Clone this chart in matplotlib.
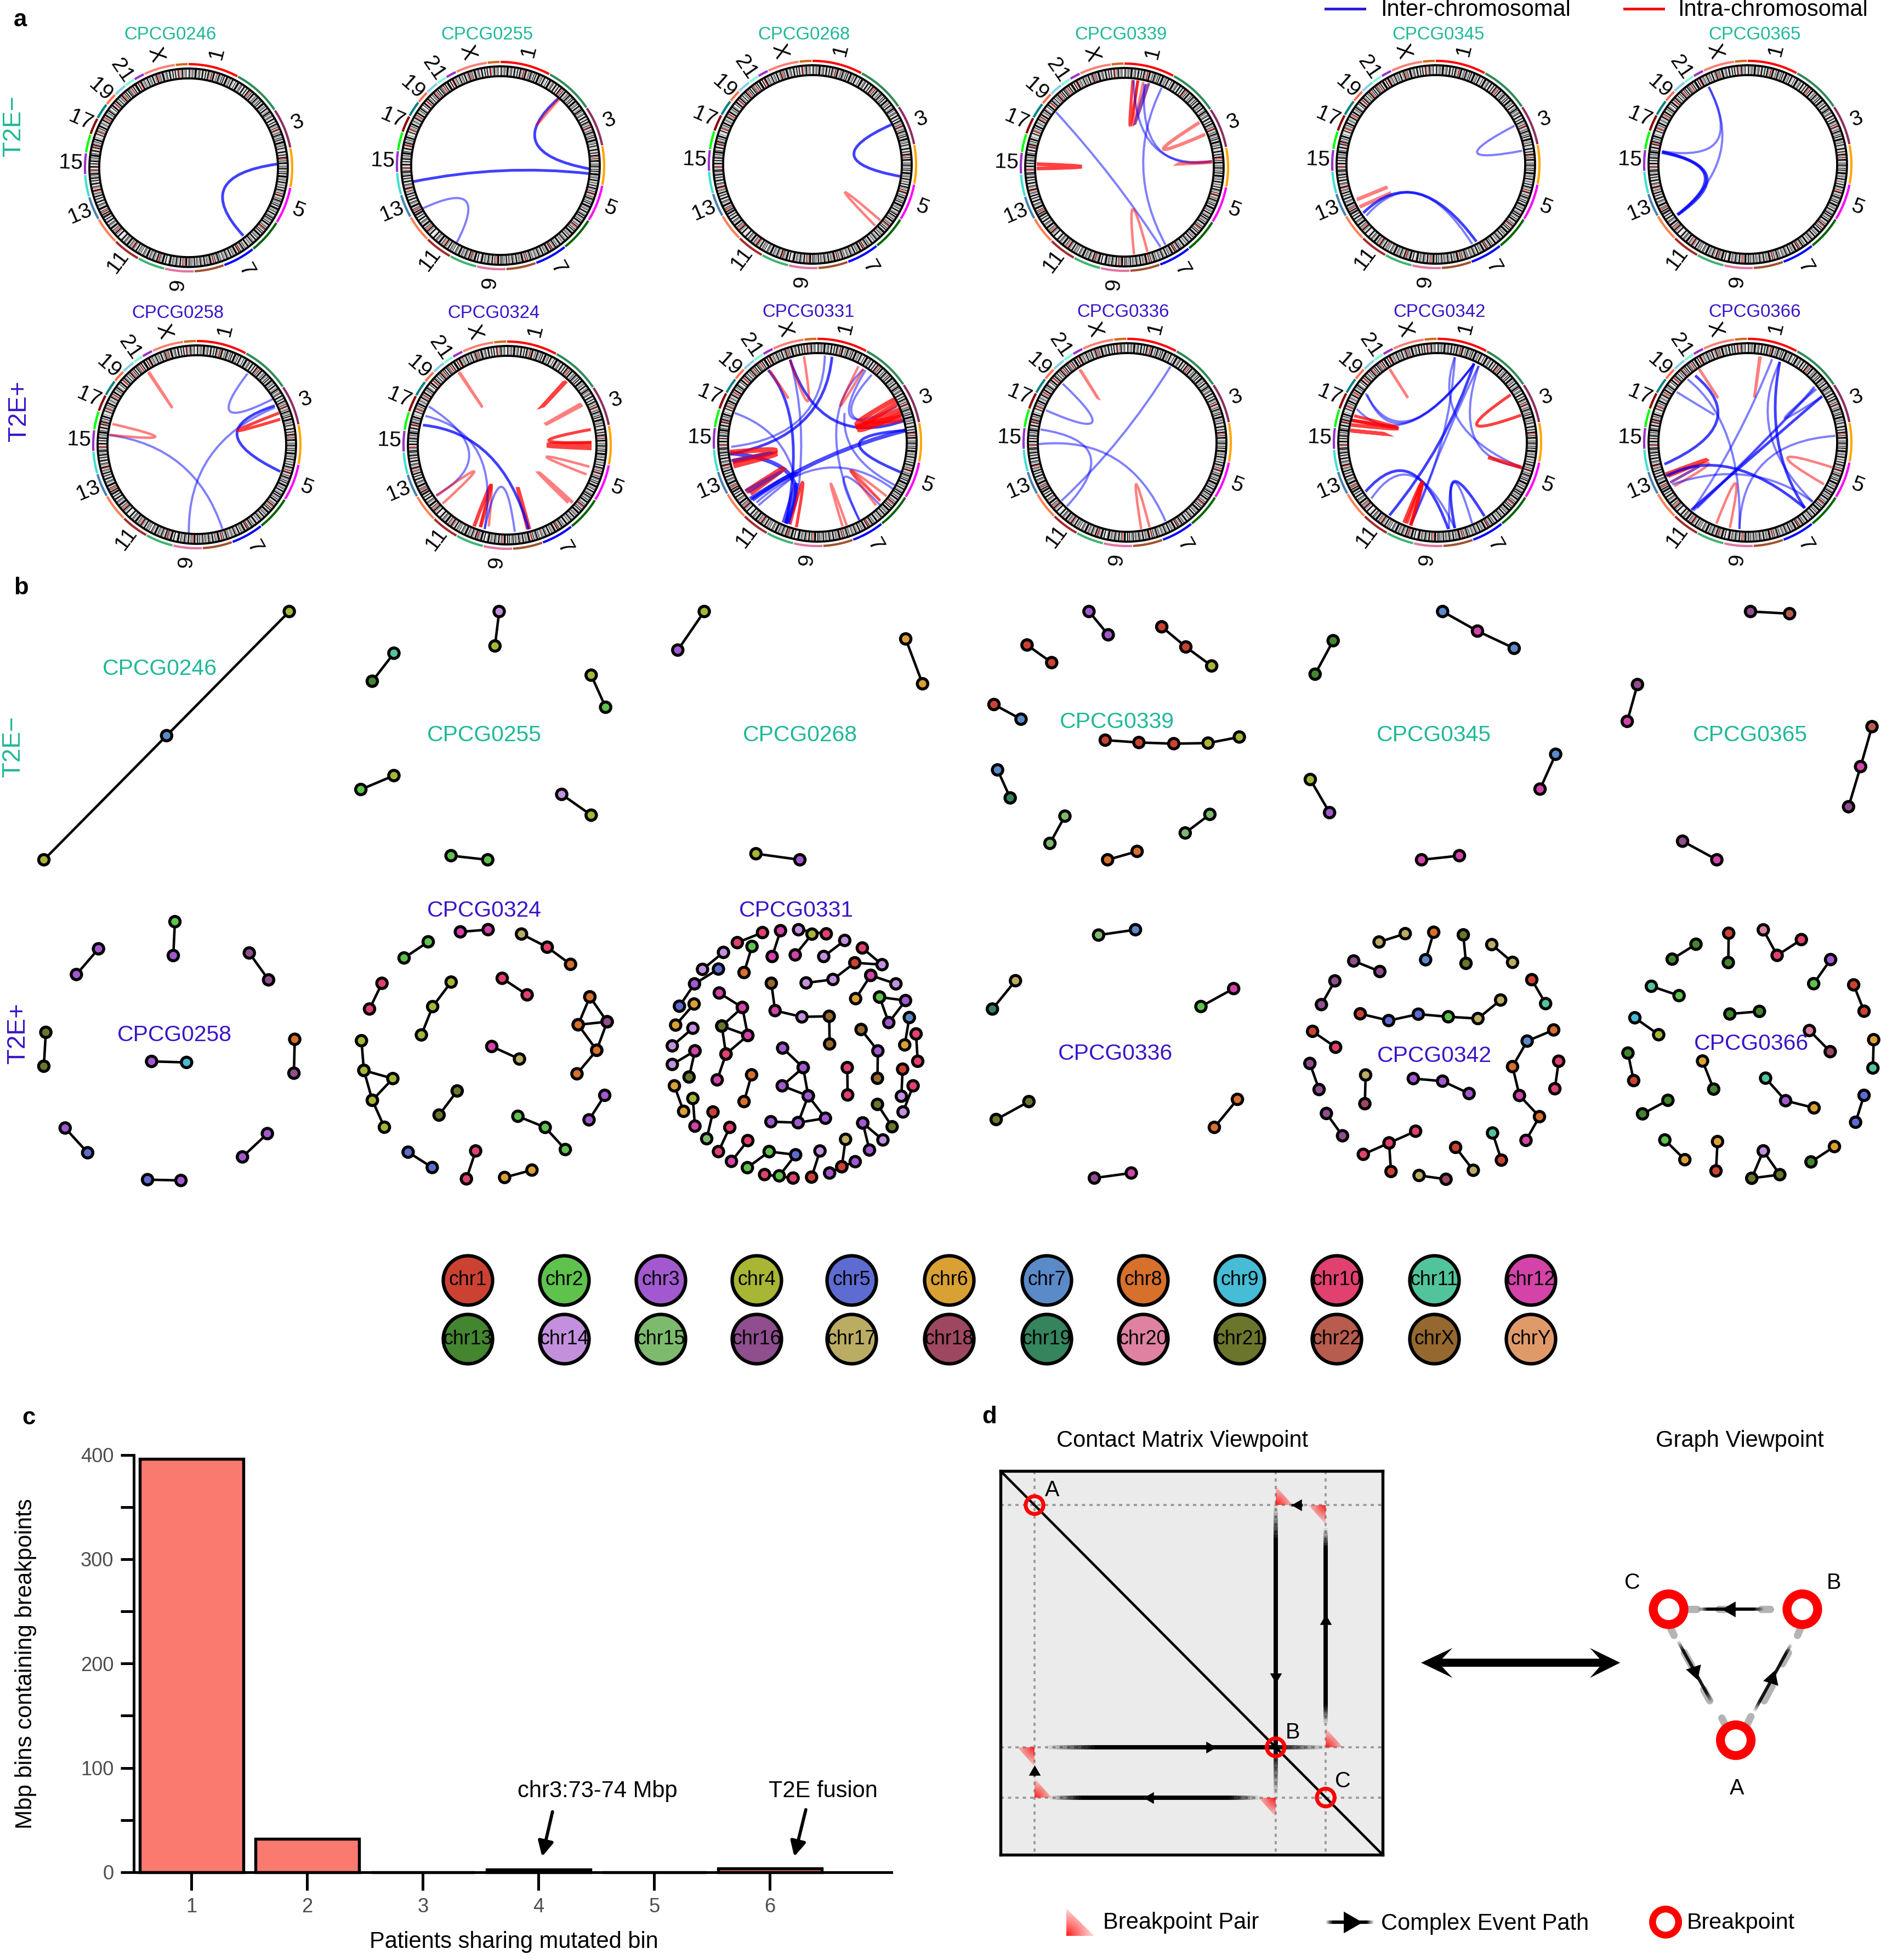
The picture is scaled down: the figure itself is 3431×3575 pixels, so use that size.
import numpy as np
import matplotlib
matplotlib.use('Agg')
import matplotlib.pyplot as plt
from matplotlib.path import Path
from matplotlib.patches import PathPatch, Polygon
from matplotlib.collections import LineCollection

plt.rcParams['font.family'] = ['Liberation Sans', 'DejaVu Sans']
W, H, DPI = 3431, 3575, 300
TEAL, INDIGO = '#1FB899', '#3A14C8'

# ---------- chromosomes ----------
CHR_NAMES = [str(i) for i in range(1, 23)] + ['X', 'Y']
CHR_MB = [249, 243, 198, 191, 181, 171, 159, 146, 141, 135, 135, 133, 115, 107, 102, 90, 81, 78, 59, 63, 48, 51, 155, 59]
CENTRO_MB = [125, 93, 91, 50, 48, 60, 60, 45, 49, 40, 53, 35, 17, 17, 19, 36, 24, 18, 26, 27, 13, 15, 60, 12]
RING_COLORS = ['#FF0000', '#2E8B57', '#8B2F62', '#FFA500', '#FF00FF', '#006400', '#0000FF', '#A0522D',
               '#E075A0', '#3CB371', '#A52A2A', '#FF7F50', '#4682B4', '#40E0D0', '#9932CC', '#00FF00',
               '#8B0000', '#008080', '#FF6F50', '#87CEEB', '#7FFFD4', '#9932CC', '#FA8072', '#D2691E']
NODE_COLORS = ['#CC4232', '#5EC24C', '#A259CF', '#A8B535', '#5E6BD0', '#D9A033', '#5B8AC9', '#D6702B',
               '#46BCD6', '#E0416E', '#52C49B', '#D343A8', '#448530', '#C290DD', '#7DBA6E', '#8F4E8E',
               '#BAAC62', '#9E4760', '#35845E', '#DF82A2', '#6B752C', '#B85C4E', '#94682E', '#E09A6A']
RING_LABELS = ['1', '3', '5', '7', '9', '11', '13', '15', '17', '19', '21', 'X']
CYTO_SHADE = [10, 100, 100, 15, 40, 5, 70, 10, 100, 20, 5, 55, 100, 100, 100, 10, 30, 5, 85, 15, 100, 35, 5, 10, 60,
              100, 100, 5, 25, 5, 75, 100, 15, 5, 45, 100, 100, 10, 65, 5, 20, 100, 30, 5, 90, 100, 100, 15, 5, 50,
              10, 100, 5, 35, 100, 100, 20, 70, 5, 10, 100, 40, 5, 80, 100, 15, 5, 55, 100, 100, 100, 10, 25, 60, 5,
              100, 20, 5, 45, 100, 100, 10, 30, 5, 75]

# ---------- crops in which positions were read ----------
CROPS = {'z1': (0, 0, 1.3067, 1.5), 'z2': (1200, 520, 1.3067, 3.0), 'z5': (1200, 20, 1.4255, 3.0),
         'z6': (2331, 20, 1.4255, 3.0), 'z7': (2331, 540, 1.4255, 3.0), 'z8': (0, 1060, 0.9116, 2.8),
         'z9': (1711, 1060, 0.9116, 2.8), 'z10': (0, 1620, 1.3635, 2.75), 'z4': (1100, 1620, 1.3067, 1.742),
         'z11': (2331, 1620, 1.4255, 2.75), 'z3': (1700, 2520, 0.9058, 1.486)}


def cv(crop, x, y):
    x0, y0, sx, sy = CROPS[crop]
    return x0 + x / sx, y0 + y / sy


# ---------- panel a ----------
CIRCOS_NAMES = ['CPCG0246', 'CPCG0255', 'CPCG0268', 'CPCG0339', 'CPCG0345', 'CPCG0365',
                'CPCG0258', 'CPCG0324', 'CPCG0331', 'CPCG0336', 'CPCG0342', 'CPCG0366']
CIRCOS_CENTERS = [(344, 306), (913, 302), (1482, 300), (2051, 305), (2619, 300), (3188, 300),
                  (359, 811), (925, 812), (1491, 807), (2056, 807), (2622, 807), (3188, 807)]
CIRCOS_TITLES = [(311, 64), (888, 64), (1467, 64), (2045, 64), (2624, 64), (3201, 64),
                 (324, 572), (901, 572), (1475, 569), (2049, 569), (2626, 569), (3201, 569)]

LINKS = {
    'CPCG0246': ('z1', [(660, 449, 580, 645, 535, 515, 'B')]),
    'CPCG0255': ('z1', [(1405, 462, 1332, 268, 1278, 390, 'B'), (1335, 268, 1330, 272, 1262, 365, 'r'),
                        (1405, 475, 985, 497, 1195, 467, 'B'), (1008, 570, 1088, 665, 1110, 550, 'b')]),
    'CPCG0268': ('z5', [(607, 622, 630, 905, 510, 790, 'B'), (578, 1145, 565, 1175, 487, 993, 'r')]),
    'CPCG0339': ('z5', [(1235, 378, 1248, 380, 1228, 625, 'R'), (1262, 388, 1248, 380, 1235, 625, 'r'),
                        (1277, 395, 1270, 400, 1240, 620, 'p'), (1265, 400, 1440, 825, 1300, 750, 'b'),
                        (1310, 420, 1320, 1280, 1262, 850, 'b'), (1035, 553, 1307, 1292, 1180, 915, 'b'),
                        (1237, 378, 1440, 822, 1290, 740, 'b'), (1408, 610, 1423, 675, 1315, 755, 's'),
                        (1442, 825, 1440, 828, 1325, 840, 's'), (985, 838, 985, 862, 1100, 852, 'M'),
                        (1238, 1332, 1273, 1318, 1235, 1085, 'r')]),
    'CPCG0345': ('z6', [(615, 628, 635, 765, 518, 775, 'b'), (205, 1033, 207, 1030, 310, 942, 's'),
                        (215, 1070, 212, 1072, 320, 972, 's'), (222, 1105, 516, 1262, 365, 1000, 'B'),
                        (230, 1120, 505, 1275, 365, 1000, 'b')]),
    'CPCG0365': ('z6', [(1120, 415, 1040, 1115, 1150, 780, 'b'), (998, 768, 1120, 415, 1140, 715, 'b'),
                        (998, 775, 1038, 1115, 1110, 900, 'B'), (1000, 770, 1040, 1115, 1115, 905, 'B')]),
    'CPCG0258': ('z1', [(260, 1190, 530, 1447, 430, 1270, 'b'), (268, 1160, 262, 1190, 370, 1195, 'r'),
                        (355, 1017, 353, 1019, 413, 1120, 'r'), (590, 1022, 650, 1092, 548, 1125, 'b'),
                        (655, 1110, 668, 1290, 565, 1190, 'B'), (450, 1458, 655, 1115, 500, 1250, 'b'),
                        (665, 1130, 668, 1147, 567, 1178, 'R')]),
    'CPCG0324': ('z1', [(1095, 1017, 1093, 1019, 1152, 1118, 'r'), (1345, 1045, 1350, 1043, 1277, 1132, 'M'),
                        (1388, 1108, 1385, 1105, 1297, 1163, 's'), (1408, 1175, 1410, 1210, 1308, 1205, 'R'),
                        (1410, 1215, 1410, 1225, 1307, 1218, 'T'), (1405, 1277, 1398, 1298, 1303, 1250, 'r'),
                        (1365, 1375, 1355, 1375, 1284, 1293, 's'), (1262, 1448, 1258, 1448, 1233, 1330, 'M'),
                        (1130, 1440, 1145, 1442, 1170, 1328, 'M'), (1165, 1440, 1145, 1442, 1170, 1328, 'r'),
                        (1155, 1448, 1227, 1455, 1195, 1332, 'b'), (1040, 1355, 1022, 1112, 1118, 1240, 'b'),
                        (1014, 1138, 1155, 1447, 1140, 1240, 'b'), (1008, 1163, 1260, 1448, 1165, 1245, 'B'),
                        (1055, 1378, 1040, 1357, 1130, 1290, 'r')]),
    'CPCG0331': ('z2', [(398, 385, 175, 885, 340, 730, 'b'), (415, 392, 172, 925, 345, 745, 'B'),
                        (263, 465, 305, 1305, 320, 800, 'B'), (172, 920, 305, 1305, 315, 1040, 'U'),
                        (315, 408, 590, 740, 420, 740, 'B'), (315, 408, 335, 1120, 340, 750, 'b'),
                        (510, 490, 585, 738, 465, 715, 'b'), (495, 465, 570, 665, 460, 720, 'b'),
                        (490, 460, 480, 1285, 425, 800, 'b'), (590, 795, 220, 1170, 400, 945, 'U'),
                        (580, 1025, 590, 795, 480, 870, 'B'), (565, 1095, 445, 700, 470, 920, 'b'),
                        (183, 700, 325, 1040, 275, 830, 'b'), (235, 1190, 560, 1115, 400, 1000, 'b'),
                        (225, 1175, 335, 1035, 300, 1060, 'U'), (240, 1205, 330, 1040, 300, 1090, 'b'),
                        (480, 1285, 530, 1205, 445, 1050, 'b'), (530, 1180, 545, 1155, 460, 1015, 'r'),
                        (520, 1205, 530, 1180, 460, 1015, 'r'), (440, 1320, 450, 1315, 412, 1085, 'r'),
                        (315, 1310, 330, 1325, 345, 1080, 'R'), (310, 1305, 300, 1300, 330, 1090, 'U'),
                        (565, 625, 580, 680, 475, 760, 'T'), (580, 720, 582, 735, 475, 775, 'T'),
                        (570, 650, 580, 705, 480, 790, 'T'), (172, 915, 178, 965, 280, 905, 'T'),
                        (180, 990, 178, 965, 280, 925, 'T'), (210, 1130, 220, 1140, 298, 1005, 'T'),
                        (215, 1135, 208, 1125, 295, 1020, 'p'), (478, 445, 490, 460, 435, 660, 'r'),
                        (265, 465, 268, 470, 325, 668, 'r'), (348, 390, 315, 410, 357, 635, 'r'),
                        (178, 965, 175, 960, 275, 915, 'p')]),
    'CPCG0336': ('z2', [(1222, 445, 962, 1180, 1100, 840, 'b'), (965, 540, 925, 685, 1035, 750, 'b'),
                        (1005, 462, 1008, 465, 1062, 668, 'r'), (912, 790, 975, 1210, 1030, 930, 'b'),
                        (908, 870, 1210, 1292, 1090, 950, 'b'), (1152, 1335, 1172, 1325, 1140, 1090, 'r')]),
    'CPCG0342': ('z7', [(510, 368, 290, 1200, 420, 800, 'B'), (522, 382, 350, 1235, 440, 760, 'b'),
                        (460, 335, 635, 940, 470, 680, 'b'), (522, 382, 630, 935, 510, 770, 'b'),
                        (228, 532, 510, 370, 345, 680, 'b'), (232, 540, 510, 372, 340, 690, 'b'),
                        (205, 618, 510, 372, 340, 690, 'b'), (460, 335, 345, 1250, 425, 800, 'b'),
                        (228, 1070, 443, 1275, 345, 968, 'B'), (243, 1108, 460, 1270, 350, 985, 'b'),
                        (460, 1270, 537, 1205, 458, 1015, 'B'), (505, 1245, 445, 1275, 458, 1020, 'b'),
                        (198, 655, 192, 680, 310, 720, 'R'), (190, 705, 192, 680, 310, 725, 'M'),
                        (190, 737, 188, 735, 305, 760, 'M'), (328, 1240, 345, 1255, 375, 1020, 'M'),
                        (335, 1245, 345, 1255, 375, 1020, 'R'), (290, 400, 292, 403, 353, 607, 'r'),
                        (605, 540, 632, 652, 517, 705, 'R'), (635, 940, 630, 935, 520, 865, 'M')]),
    'CPCG0366': ('z7', [(1255, 330, 1252, 332, 1238, 570, 'r'), (1095, 400, 1097, 403, 1160, 608, 'r'),
                        (1285, 345, 1080, 1165, 1190, 780, 'b'), (1305, 360, 1390, 1125, 1280, 750, 'b'),
                        (1395, 495, 1080, 1175, 1270, 780, 'b'), (1395, 505, 1090, 1160, 1270, 785, 'b'),
                        (1415, 548, 1075, 1170, 1260, 830, 'B'), (1400, 510, 1415, 550, 1318, 668, 'b'),
                        (1305, 360, 1370, 1160, 1300, 790, 'B'), (1085, 435, 1005, 920, 1140, 690, 'B'),
                        (1065, 455, 1200, 1275, 1170, 780, 'b'), (1037, 525, 1135, 650, 1095, 600, 'b'),
                        (1449, 765, 1200, 1275, 1265, 910, 'b'), (1442, 938, 1420, 1030, 1325, 885, 'r'),
                        (1175, 1268, 1140, 1245, 1190, 1025, 'r'), (1008, 975, 1015, 985, 1115, 895, 'M'),
                        (1012, 980, 1030, 1040, 1120, 915, 'r'), (1025, 1015, 1020, 1020, 1118, 905, 'p'),
                        (1010, 985, 1370, 1160, 1180, 940, 'B'), (1025, 1030, 1390, 1125, 1220, 980, 'b')]),
}
LINK_STYLE = {'b': ('#0000FF', 0.5, 0.95), 'B': ('#0000FF', 0.75, 1.2), 'U': ('#0000FF', 0.7, 1.8),
              'r': ('#FF0000', 0.5, 1.1), 's': ('#FF0000', 0.5, 1.5), 'R': ('#FF0000', 0.75, 1.3),
              'M': ('#FF0000', 0.75, 1.6), 'T': ('#FF0000', 0.75, 2.2), 'p': ('#7A1A9A', 0.8, 1.1)}

# ---------- panel b ----------
GRAPHS = {
    'z8': [[(481, 155, 4), (277, 789, 7), (73, 1423, 4)],
           [(830, 155, 14), (823, 331, 4)], [(655, 368, 11), (619, 511, 13)], [(983, 480, 4), (1007, 644, 2)],
           [(655, 993, 4), (600, 1064, 2)], [(934, 1089, 14), (983, 1195, 4)], [(750, 1402, 2), (811, 1423, 2)],
           [(1171, 155, 4), (1127, 352, 3)], [(1506, 295, 6), (1534, 524, 6)], [(1257, 1392, 4), (1330, 1423, 3)]],
    'z9': [[(251, 155, 3), (283, 274, 3)], [(148, 326, 1), (189, 416, 1)], [(372, 233, 1), (412, 336, 1), (455, 433, 4)],
           [(93, 630, 1), (138, 705, 7)], [(278, 812, 1), (334, 824, 1), (392, 830, 1), (449, 827, 4), (501, 796, 4)],
           [(99, 964, 7), (120, 1107, 19)], [(211, 1200, 15), (186, 1339, 15)], [(452, 1191, 15), (411, 1286, 15)],
           [(282, 1423, 8), (331, 1380, 8)],
           [(657, 304, 13), (627, 475, 13)], [(839, 155, 7), (897, 255, 12), (958, 343, 7)], [(619, 1013, 4), (651, 1182, 3)],
           [(1027, 884, 7), (1001, 1062, 12)], [(804, 1423, 12), (867, 1402, 12)],
           [(1351, 155, 16), (1416, 166, 22)], [(1163, 528, 16), (1146, 716, 12)],
           [(1553, 743, 22), (1534, 947, 12), (1514, 1152, 16)], [(1238, 1328, 16), (1295, 1423, 12)]],
    'z10': [[(435, 168, 2), (431, 338, 3)], [(245, 304, 3), (190, 433, 3)], [(620, 325, 16), (668, 460, 16)],
            [(114, 723, 21), (109, 893, 21)], [(377, 869, 3), (464, 874, 9)], [(733, 758, 8), (731, 928, 16)],
            [(162, 1203, 3), (218, 1327, 5)], [(665, 1231, 3), (603, 1348, 3)], [(367, 1462, 5), (450, 1466, 3)],
            [(1145, 219, 12), (1214, 208, 12)], [(1065, 269, 2), (1005, 350, 2)],
            [(1297, 230, 17), (1361, 296, 10), (1419, 382, 8)], [(950, 477, 10), (919, 606, 10)],
            [(1122, 471, 4), (1076, 594, 4), (1048, 736, 4)], [(1249, 452, 10), (1311, 535, 10)],
            [(1467, 545, 8), (1510, 670, 16), (1484, 813, 8), (1438, 685, 8), (1467, 545, 8)],
            [(1438, 685, 8), (1510, 670, 16)], [(1484, 813, 8), (1435, 931, 8)], [(1223, 794, 12), (1292, 857, 17)],
            [(899, 765, 4), (905, 914, 4), (977, 955, 4), (926, 1064, 4), (905, 914, 4)], [(926, 1064, 4), (956, 1199, 4)],
            [(1137, 1017, 21), (1092, 1138, 21)], [(1504, 1039, 3), (1465, 1162, 3)],
            [(1288, 1144, 2), (1356, 1200, 2), (1406, 1311, 2)], [(1015, 1324, 5), (1075, 1401, 5)],
            [(1183, 1318, 10), (1160, 1458, 10)], [(1255, 1451, 6), (1323, 1414, 6)]],
    'z4': [[(380, 141, 10), (320, 173, 10)], [(423, 135, 12), (403, 217, 12)], [(466, 132, 14), (532, 145, 10)],
           [(498, 146, 4), (458, 212, 12)], [(576, 166, 14), (526, 217, 14)], [(355, 185, 2), (336, 268, 8)],
           [(287, 204, 14), (237, 258, 14)], [(275, 257, 5), (218, 304, 3), (182, 375, 5)],
           [(618, 190, 10), (665, 243, 14), (600, 237, 1), (548, 290, 14), (484, 301, 14)],
           [(638, 277, 12), (698, 304, 14)], [(638, 277, 12), (602, 351, 6)],
           [(401, 302, 23), (410, 389, 12), (474, 409, 14), (539, 407, 23), (540, 495, 23)],
           [(277, 333, 12), (332, 379, 12), (345, 468, 12), (283, 438, 21), (332, 379, 12)],
           [(283, 438, 21), (293, 527, 10), (345, 468, 12)], [(293, 527, 10), (272, 609, 12)],
           [(217, 368, 6), (173, 435, 6)], [(214, 445, 14), (165, 501, 14)],
           [(659, 346, 2), (721, 357, 3), (681, 427, 3), (659, 346, 2)], [(730, 411, 7), (719, 498, 6)],
           [(746, 463, 10), (750, 550, 10)], [(615, 449, 23), (655, 517, 3), (654, 604, 23)],
           [(219, 517, 12), (165, 560, 14)], [(219, 517, 12), (205, 600, 21)],
           [(428, 508, 3), (477, 570, 3), (489, 660, 3), (427, 628, 3), (477, 570, 3)],
           [(489, 660, 3), (530, 731, 3), (465, 745, 3), (489, 660, 3)], [(465, 745, 3), (400, 742, 3)],
           [(354, 593, 8), (336, 678, 8)], [(582, 570, 10), (583, 657, 10)], [(714, 575, 1), (711, 661, 14)],
           [(739, 628, 10), (715, 711, 14)], [(170, 628, 6), (192, 709, 6)], [(214, 668, 4), (219, 756, 12)],
           [(262, 711, 1), (247, 796, 15)], [(302, 760, 10), (275, 837, 10)], [(654, 687, 21), (689, 758, 21)],
           [(619, 746, 3), (667, 800, 14)], [(619, 746, 3), (635, 832, 3)], [(345, 802, 10), (306, 868, 12)],
           [(396, 837, 2), (459, 847, 5), (420, 914, 2)], [(396, 837, 2), (344, 888, 2)],
           [(385, 910, 10), (453, 921, 10)], [(517, 835, 14), (497, 918, 1)],
           [(578, 798, 17), (569, 885, 1), (540, 905, 3)], [(569, 885, 1), (601, 869, 3)],
           [(1181, 149, 15), (1269, 132, 7)], [(983, 294, 17), (928, 384, 19)], [(1425, 376, 2), (1503, 319, 12)],
           [(1015, 678, 21), (937, 735, 21)], [(1512, 671, 8), (1457, 760, 8)], [(1171, 921, 16), (1259, 905, 12)]],
    'z11': [[(331, 228, 17), (263, 270, 17)], [(405, 221, 8), (384, 359, 7)], [(482, 234, 21), (489, 377, 21)],
            [(556, 283, 17), (610, 372, 17)], [(197, 365, 16), (265, 418, 16)], [(660, 459, 1), (696, 579, 11)],
            [(148, 465, 16), (113, 584, 16)],
            [(214, 630, 1), (288, 664, 5), (365, 632, 5), (443, 645, 2), (520, 654, 17), (579, 561, 17)],
            [(90, 718, 1), (150, 798, 10)],
            [(717, 711, 8), (648, 767, 7), (610, 895, 8), (628, 1040, 12), (680, 1146, 8), (645, 1265, 12)],
            [(83, 879, 16), (107, 1010, 16)], [(730, 868, 10), (720, 1006, 10)], [(228, 937, 17), (226, 1081, 18)],
            [(352, 955, 3), (428, 968, 3), (497, 1030, 3)], [(126, 1130, 16), (168, 1242, 16)],
            [(358, 1219, 10), (289, 1278, 10), (222, 1335, 10)], [(289, 1278, 10), (294, 1421, 1)],
            [(462, 1300, 1), (508, 1415, 17)], [(558, 1228, 11), (581, 1364, 1)], [(367, 1441, 17), (437, 1460, 18)],
            [(1087, 281, 13), (1025, 356, 13)], [(1172, 226, 1), (1171, 373, 13)],
            [(1262, 209, 20), (1298, 337, 10), (1361, 258, 10)], [(1437, 358, 3), (1393, 479, 2)],
            [(971, 492, 11), (1043, 539, 2)], [(1497, 485, 1), (1524, 617, 1)], [(1175, 631, 13), (1252, 618, 13)],
            [(928, 650, 9), (990, 735, 4)], [(1382, 714, 20), (1436, 820, 18)], [(1549, 760, 6), (1547, 902, 11)],
            [(910, 827, 13), (925, 965, 1)], [(1104, 867, 6), (1133, 1008, 13)],
            [(1268, 953, 11), (1320, 1066, 3), (1394, 1102, 6)], [(1014, 1064, 13), (948, 1132, 13)],
            [(1524, 1039, 5), (1502, 1174, 5)], [(1006, 1263, 2), (1058, 1362, 6)], [(1143, 1271, 6), (1139, 1418, 1)],
            [(1262, 1318, 14), (1305, 1437, 21), (1232, 1455, 21), (1262, 1318, 14)], [(1447, 1296, 6), (1386, 1373, 13)]],
}
GRAPH_LABELS = [('CPCG0246', 291, 1220), ('CPCG0255', 883, 1341), ('CPCG0268', 1459, 1341), ('CPCG0339', 2037, 1317),
                ('CPCG0345', 2615, 1341), ('CPCG0365', 3192, 1341), ('CPCG0258', 318, 1888), ('CPCG0324', 883, 1661),
                ('CPCG0331', 1452, 1661), ('CPCG0336', 2034, 1922), ('CPCG0342', 2616, 1926), ('CPCG0366', 3194, 1904)]
KEY_LABELS = ['chr' + n for n in CHR_NAMES]
KEY_X = [853, 1029, 1205, 1380, 1553, 1731, 1909, 2085, 2261, 2438, 2616, 2792]
KEY_Y = [2335, 2442]

# ---------- panel c ----------
BAR_X = [1, 2, 3, 4, 5, 6]
BAR_Y = [396, 32, 0, 2.5, 0, 3.5]
BAR_TICKS_MAJOR = [0, 100, 200, 300, 400]
BAR_TICKS_MINOR = [50, 150, 250, 350]

# ---------- panel d ----------
BREAKPOINTS = [8.9, 72.0, 85.1]
BP_LABELS = ['A', 'B', 'C']

fig = plt.figure(figsize=(W / DPI, H / DPI), dpi=DPI)


def axes_px(l, t, r, b, **kw):
    return fig.add_axes([l / W, 1 - b / H, (r - l) / W, (b - t) / H], **kw)


ov = fig.add_axes([0, 0, 1, 1], zorder=5)
ov.set_xlim(0, W)
ov.set_ylim(H, 0)
ov.axis('off')
ov.patch.set_alpha(0)

for txt, x, y in [('a', 37, 36), ('b', 38, 1072), ('c', 52, 2587), ('d', 1805, 2584)]:
    ov.text(x, y, txt, fontsize=10.5, fontweight='bold', ha='center', va='center')

TOTAL = sum(CHR_MB)
GAP = 0.5
SCALE = (360 - GAP * len(CHR_MB)) / TOTAL
STARTS = np.concatenate([[0], np.cumsum(np.array(CHR_MB) * SCALE + GAP)[:-1]])
R_ARC, R_OUT, R_IN, R_LAB = 189.0, 181.0, 163.0, 215.0
BAND = 3


def polar(cx, cy, r, deg):
    a = np.radians(deg)
    return cx + r * np.sin(a), cy - r * np.cos(a)


for name, (cx, cy), (tx, ty) in zip(CIRCOS_NAMES, CIRCOS_CENTERS, CIRCOS_TITLES):
    col = TEAL if CIRCOS_NAMES.index(name) < 6 else INDIGO
    ov.text(tx, ty, name, color=col, fontsize=7.9, ha='center', va='center')
    segs, cols, red = [], [], []
    for i, (st, mb) in enumerate(zip(STARTS, CHR_MB)):
        deg = st + np.linspace(0, mb * SCALE, 40)
        ov.plot(*polar(cx, cy, R_ARC, deg), color=RING_COLORS[i], lw=1.0, solid_capstyle='butt')
        for k, pos in enumerate(range(0, mb, BAND)):
            d = st + pos * SCALE
            shade = CYTO_SHADE[(k + i * 7) % len(CYTO_SHADE)]
            segs.append([polar(cx, cy, R_IN, d), polar(cx, cy, R_OUT, d)])
            cols.append(str(1 - shade / 100))
        d = st + CENTRO_MB[i] * SCALE
        red.append([polar(cx, cy, R_IN, d), polar(cx, cy, R_OUT, d)])
    ov.add_collection(LineCollection(segs, colors=cols, linewidths=0.36))
    ov.add_collection(LineCollection(red, colors='#FF3030', linewidths=0.35))
    th = np.linspace(0, 360, 361)
    for r in (R_IN, R_OUT):
        ov.plot(*polar(cx, cy, r, th), color='black', lw=0.9)
    for lab in RING_LABELS:
        i = CHR_NAMES.index(lab)
        d = STARTS[i] + CHR_MB[i] * SCALE / 2
        x, y = polar(cx, cy, R_LAB, d)
        math_a = 90 - d
        rot = math_a if d < 180 else math_a + 180
        ov.text(x, y, lab, fontsize=9.4, rotation=rot, rotation_mode='anchor', ha='center', va='center')
    crop, links = LINKS[name]
    for x1, y1, x2, y2, xa, ya, kind in links:
        p0 = np.array(cv(crop, x1, y1))
        p2 = np.array(cv(crop, x2, y2))
        am = np.array(cv(crop, xa, ya))
        c = 2 * am - 0.5 * (p0 + p2)
        color, alpha, lw = LINK_STYLE[kind]
        ov.add_patch(PathPatch(Path([p0, c, p2], [Path.MOVETO, Path.CURVE3, Path.CURVE3]), fc='none',
                               ec=color, alpha=alpha, lw=lw, capstyle='butt'))

ov.text(25, 230, 'T2E\u2212', color=TEAL, fontsize=11, rotation=90, ha='center', va='center')
ov.text(35, 750, 'T2E+', color=INDIGO, fontsize=11, rotation=90, ha='center', va='center')
ov.text(24, 1362, 'T2E\u2212', color=TEAL, fontsize=11, rotation=90, ha='center', va='center')
ov.text(33, 1885, 'T2E+', color=INDIGO, fontsize=11, rotation=90, ha='center', va='center')

ov.plot([2418, 2489], [16, 16], color='#2A1FD0', lw=1.2)
ov.plot([2963, 3034], [16, 16], color='#F01010', lw=1.2)
ov.text(2518, 18, 'Inter-chromosomal', fontsize=10.0, ha='left', va='center')
ov.text(3060, 18, 'Intra-chromosomal', fontsize=10.0, ha='left', va='center')

# panel b
for crop, chains in GRAPHS.items():
    for chain in chains:
        pts = np.array([cv(crop, x, y) for x, y, _ in chain])
        ov.plot(pts[:, 0], pts[:, 1], color='black', lw=1.1, zorder=2)
        ov.scatter(pts[:, 0], pts[:, 1], s=21, c=[NODE_COLORS[c - 1] for _, _, c in chain],
                   edgecolors='black', linewidths=1.3, zorder=3)
for name, x, y in GRAPH_LABELS:
    col = TEAL if CIRCOS_NAMES.index(name) < 6 else INDIGO
    ov.text(x, y, name, color=col, fontsize=9.8, ha='center', va='center', zorder=4)

for i, lab in enumerate(KEY_LABELS):
    x = KEY_X[i % 12]
    y = KEY_Y[i // 12]
    ov.scatter([x], [y], s=(21.6) ** 2, c=NODE_COLORS[i], edgecolors='black', linewidths=1.5, zorder=3)
    ov.text(x, y, lab, fontsize=8.6, ha='center', va='center', zorder=4)

# panel c
ax = axes_px(244, 2653.5, 1626, 3415)
ax.patch.set_alpha(0)
ax.bar(BAR_X, BAR_Y, width=0.9, color='#FA7A70', edgecolor='black', linewidth=1.3, clip_on=False)
ax.set_xlim(0.5, 7.05)
ax.set_ylim(0, 400)
for s in ('top', 'right'):
    ax.spines[s].set_visible(False)
for s in ('left', 'bottom'):
    ax.spines[s].set_linewidth(1.2)
ax.set_xticks(BAR_X)
ax.set_yticks(BAR_TICKS_MAJOR)
ax.set_yticks(BAR_TICKS_MINOR, minor=True)
ax.tick_params(axis='y', which='both', length=5.8, width=1.2, labelsize=8.7, labelcolor='#4D4D4D', pad=3)
ax.tick_params(axis='x', length=8, width=1.2, labelsize=8.7, labelcolor='#4D4D4D', pad=3)
ax.set_xlabel('Patients sharing mutated bin', fontsize=10)
ax.xaxis.set_label_coords(0.502, -0.14)
ax.set_ylabel('Mbp bins containing breakpoints', fontsize=10.1)
ax.yaxis.set_label_coords(-0.128, 0.5)
for txt, xt, yt, x0, y0, x1, y1 in [('chr3:73-74 Mbp', 4.51, 78, 4.12, 58, 4.03, 15),
                                    ('T2E fusion', 6.46, 78, 6.31, 60, 6.21, 15)]:
    ax.text(xt, yt, txt, fontsize=10, ha='center', va='center')
    ax.annotate('', xy=(x1, y1), xytext=(x0, y0),
                arrowprops=dict(arrowstyle='-|>,head_width=0.28,head_length=0.55', color='black', lw=1.4,
                                shrinkA=0, shrinkB=0))


def grad_line(a, p0, p1, f0=0.1, f1=0.1, lw=1.9, n=80, z=3, color=(0, 0, 0)):
    t = np.linspace(0, 1, n + 1)
    pts = np.outer(1 - t, p0) + np.outer(t, p1)
    mid = (t[:-1] + t[1:]) / 2
    al = np.minimum(1, np.minimum(mid / max(f0, 1e-6), (1 - mid) / max(f1, 1e-6)))
    segs = [[pts[i], pts[i + 1]] for i in range(n)]
    a.add_collection(LineCollection(segs, colors=[(*color, v) for v in al], linewidths=lw, zorder=z,
                                    capstyle='butt'))


def head(a, x, y, deg, ms=6.0, z=4):
    a.plot([x], [y], marker=(3, 0, -deg), color='black', ms=ms, mew=0, zorder=z, ls='none')


def grad_tri(a, verts, corner, z=2):
    v = np.array(verts, dtype=float)
    xs = np.linspace(v[:, 0].min(), v[:, 0].max(), 60)
    ys = np.linspace(v[:, 1].min(), v[:, 1].max(), 60)
    gx, gy = np.meshgrid(xs, ys)
    d = np.hypot(gx - corner[0], gy - corner[1])
    rgba = np.zeros((60, 60, 4))
    rgba[..., 0] = 1
    rgba[..., 1] = rgba[..., 2] = 0.05
    rgba[..., 3] = 0.95 * np.clip(1 - d / (0.95 * d.max()), 0, 1) ** 1.3
    im = a.imshow(rgba, extent=(xs[0], xs[-1], ys[-1], ys[0]), origin='upper', aspect='auto', zorder=z,
                  interpolation='bilinear')
    p = Polygon(v, transform=a.transData, fc='none', ec='none')
    a.add_patch(p)
    im.set_clip_path(p)


# panel d
axd = axes_px(1825, 2683, 2522, 3383)
axd.set_facecolor('#EBEBEB')
for s in axd.spines.values():
    s.set_linewidth(1.3)
axd.set_xticks([])
axd.set_yticks([])
A, B, C = BREAKPOINTS
GREY = dict(color='#9A9A9A', lw=0.9, ls=(0, (1.6, 2.0)), zorder=1)
for v in BREAKPOINTS:
    axd.plot([v, v], [0, 100], **GREY)
    axd.plot([0, 100], [v, v], **GREY)
L = 5.0
for (cx_, cy_, sx_, sy_) in [(B, A, 1, -1), (C, A, -1, 1), (C, B, 1, -1), (B, C, -1, 1), (A, C, 1, -1), (A, B, -1, 1)]:
    grad_tri(axd, [(cx_, cy_), (cx_, cy_ + sy_ * L), (cx_ + sx_ * L * 0.9, cy_)], (cx_, cy_))
axd.plot([0, 100], [0, 100], color='black', lw=1.1, zorder=4)
grad_line(axd, (B, A), (B, C), 0.12, 0.17)
grad_line(axd, (C, A + 6), (C, B - 6), 0.1, 0.1)
grad_line(axd, (A + 3, B), (C, B), 0.18, 0.18)
grad_line(axd, (A + 4, C), (B - 4, C), 0.15, 0.15)
grad_line(axd, (A, C - 5.5), (A, B + 6), 0.01, 0.01, lw=1.0)
grad_line(axd, (C - 6, A), (B + 4, A), 0.01, 0.01, lw=1.2)
head(axd, B, 53.6, 180)
head(axd, C, 39.2, 0)
head(axd, 54.7, B, 90)
head(axd, 39.2, C, 270)
head(axd, A, 78.4, 0)
head(axd, 77.9, A, 270)
axd.scatter(BREAKPOINTS, BREAKPOINTS, s=60, facecolors='none', edgecolors='#FF0000', linewidths=1.7, zorder=6)
for v, lab, dx, dy in zip(BREAKPOINTS, BP_LABELS, (4.6, 4.4, 4.4), (-3.9, -3.8, -4.2)):
    axd.text(v + dx, v + dy, lab, fontsize=9.5, ha='center', va='center', zorder=6)
axd.set_xlim(0, 100)
axd.set_ylim(100, 0)


def z3(x, y):
    return cv('z3', x, y)


ov.text(*z3(414, 160), 'Contact Matrix Viewpoint', fontsize=10, ha='center', va='center')
ov.text(*z3(1335, 160), 'Graph Viewpoint', fontsize=10, ha='center', va='center')
ov.add_patch(Polygon([z3(*p) for p in [(808, 762), (860, 722), (843, 751), (1103, 751), (1087, 722), (1137, 762),
                                       (1087, 803), (1103, 773), (843, 773), (860, 803)]], fc='black', ec='none'))

GV_NODES = [(1328, 972), (1438, 617), (1217, 617)]
GV_LABELS = [(1330, 1103, 'A'), (1490, 546, 'B'), (1157, 545, 'C')]
STUBS = [(1250, 617, 1264, 617), (1300, 617, 1320, 617), (1370, 617, 1385, 617),
         (1218, 660, 1226, 688), (1243, 735, 1255, 770), (1275, 835, 1285, 865),
         (1305, 912, 1312, 935), (1353, 908, 1345, 935), (1375, 865, 1388, 825),
         (1405, 765, 1415, 735), (1437, 660, 1430, 688)]
for x0, y0, x1, y1 in STUBS:
    p, q = z3(x0, y0), z3(x1, y1)
    ov.plot([p[0], q[0]], [p[1], q[1]], color='#777777', alpha=0.55, lw=3.2, solid_capstyle='round', zorder=2)
for (x0, y0, x1, y1, hx, hy, deg) in [(1375, 617, 1265, 617, 1320, 617, 270),
                                      (1232, 702, 1288, 868, 1260, 785, 162),
                                      (1358, 895, 1420, 710, 1388, 805, 18)]:
    grad_line(ov, np.array(z3(x0, y0)), np.array(z3(x1, y1)), 0.15, 0.15, lw=1.4, z=3)
    head(ov, *z3(hx, hy), deg, ms=8)
gx = [z3(*p) for p in GV_NODES]
ov.scatter([p[0] for p in gx], [p[1] for p in gx], s=180, facecolors='none', edgecolors='#FF0000',
           linewidths=3.9, zorder=5)
for x, y, lab in GV_LABELS:
    ov.text(*z3(x, y), lab, fontsize=9.5, ha='center', va='center')

# panel d key
grad_tri(ov, [z3(222, 1428), z3(222, 1502), z3(268, 1502)], z3(222, 1502))
ov.text(*z3(283, 1467), 'Breakpoint Pair', fontsize=10, ha='left', va='center')
grad_line(ov, np.array(z3(650, 1465)), np.array(z3(730, 1465)), 0.15, 0.15, lw=1.5)
head(ov, *z3(690, 1465), 90, ms=11)
ov.text(*z3(742, 1469), 'Complex Event Path', fontsize=10, ha='left', va='center')
ov.scatter(*z3(1212, 1465), s=130, facecolors='none', edgecolors='#FF0000', linewidths=3.0, zorder=5)
ov.text(*z3(1247, 1467), 'Breakpoint', fontsize=9.9, ha='left', va='center')

ov.set_xlim(0, W)
ov.set_ylim(H, 0)
fig.savefig('out.png', dpi=DPI)
